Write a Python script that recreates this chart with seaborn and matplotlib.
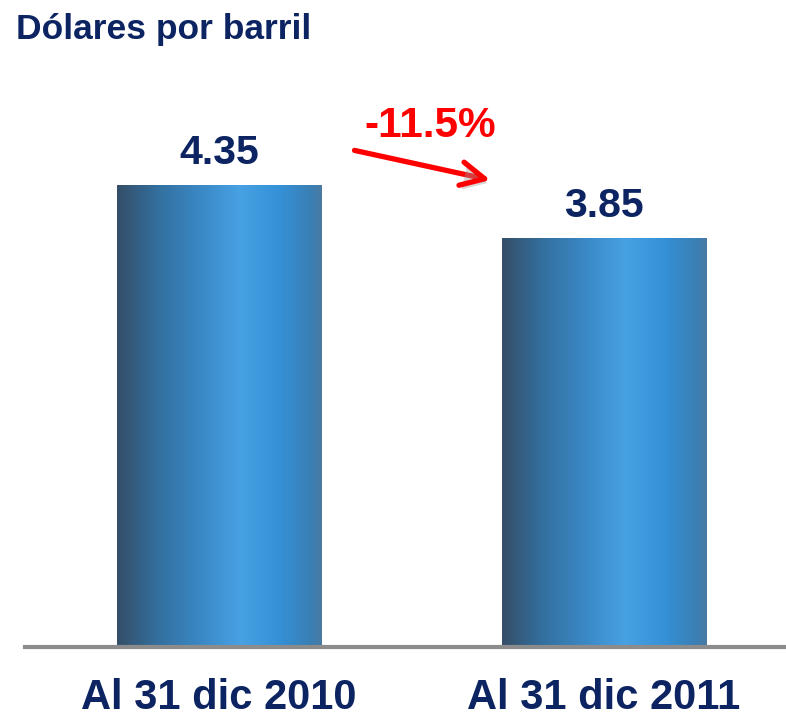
import numpy as np
import pandas as pd
import matplotlib
matplotlib.use("Agg")
import matplotlib.pyplot as plt
import matplotlib.patheffects as pe
from matplotlib.colors import LinearSegmentedColormap
import seaborn as sns

# ── data ──────────────────────────────────────────────────────────────────────
categories = ["Al 31 dic 2010", "Al 31 dic 2011"]
values     = [4.35, 3.85]
title_text = "Dólares por barril"

NAVY = "#0c2461"
RED  = "#ff0000"

sns.set_style("white")
plt.rcParams["font.family"] = ["Liberation Sans", "DejaVu Sans"]

df = pd.DataFrame({"periodo": categories, "valor": values})

fig = plt.figure(figsize=(7.86, 7.17), dpi=100)
ax = fig.add_axes([25 / 786, 70 / 717, 761 / 786, 647 / 717])

sns.barplot(data=df, x="periodo", y="valor", color="#3b8ac8",
            width=0.53, ax=ax, saturation=1)

# horizontal gradient inside each bar
grad = LinearSegmentedColormap.from_list("bar", [
    (0.00, "#354e68"), (0.20, "#33709f"), (0.42, "#3b8ac8"),
    (0.60, "#47a1e3"), (0.80, "#3590d6"), (0.95, "#3a7fb3"),
    (1.00, "#4a7aa3")])
g = np.linspace(0, 1, 256).reshape(1, -1)
for bar in ax.patches:
    x0, w, h = bar.get_x(), bar.get_width(), bar.get_height()
    im = ax.imshow(g, cmap=grad, aspect="auto", extent=[x0, x0 + w, 0, h],
                   zorder=bar.get_zorder() + 0.1)
    im.set_clip_path(bar)

ax.set_xlim(-0.504, 1.473)
ax.set_ylim(0, 6.09)

# value labels
for i, v in enumerate(values):
    ax.annotate(f"{v:.2f}", (i, v), xytext=(0, 9), textcoords="offset points",
                ha="center", va="bottom", fontsize=29.5, fontweight="bold",
                color=NAVY)

# change arrow
pct = (values[1] - values[0]) / values[0] * 100
shadow = [pe.withSimplePatchShadow(offset=(2, -3), shadow_rgbFace="#999999", alpha=0.4)]
ax.annotate("", xy=(0.712, 4.39), xytext=(0.345, 4.68),
            arrowprops=dict(arrowstyle="->,head_length=1.7,head_width=0.85",
                            color=RED, lw=3.8, path_effects=shadow))
ax.text(0.548, 4.90, f"{pct:.1f}%", ha="center", va="center", fontsize=30.5,
        fontweight="bold", color=RED)

# axes styling
for s in ["top", "right", "left"]:
    ax.spines[s].set_visible(False)
ax.spines["bottom"].set_color("#8c8c8c")
ax.spines["bottom"].set_linewidth(3)
ax.set_yticks([])
ax.set_xlabel("")
ax.set_ylabel("")
ax.tick_params(axis="x", length=0, pad=22, labelsize=30, labelcolor=NAVY)
for lbl in ax.get_xticklabels():
    lbl.set_fontweight("bold")

fig.text(16 / 786, 1 - 30 / 717, title_text, ha="left", va="center",
         fontsize=25.5, fontweight="bold", color=NAVY)

fig.savefig("out.png", dpi=100)
